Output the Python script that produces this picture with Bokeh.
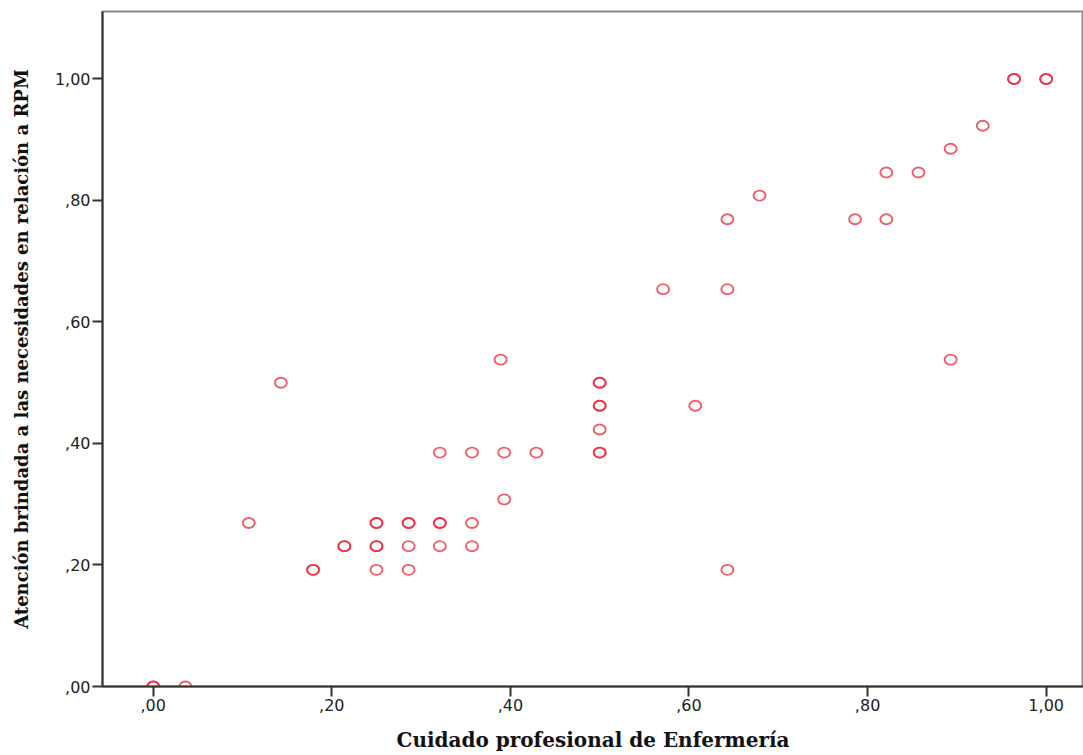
from bokeh.plotting import figure
from bokeh.models import FixedTicker, ColumnDataSource, Range1d
from bokeh.embed import file_html
from bokeh.resources import INLINE

# Data (duplicates = overlapping cases)
cuidado = [0.0, 0.0, 0.036, 0.107, 0.143, 0.179, 0.179, 0.214, 0.214,
           0.25, 0.25, 0.25, 0.25, 0.25, 0.286, 0.286, 0.286, 0.286,
           0.321, 0.321, 0.321, 0.321, 0.357, 0.357, 0.357,
           0.389, 0.393, 0.393, 0.429,
           0.5, 0.5, 0.5, 0.5, 0.5, 0.5, 0.5,
           0.571, 0.607, 0.643, 0.643, 0.643, 0.679,
           0.786, 0.821, 0.821, 0.857, 0.893, 0.893, 0.929,
           0.964, 0.964, 1.0, 1.0]
atencion = [0.0, 0.0, 0.0, 0.269, 0.5, 0.192, 0.192, 0.231, 0.231,
            0.269, 0.269, 0.231, 0.231, 0.192, 0.269, 0.269, 0.231, 0.192,
            0.385, 0.269, 0.269, 0.231, 0.385, 0.269, 0.231,
            0.538, 0.385, 0.308, 0.385,
            0.5, 0.5, 0.462, 0.462, 0.423, 0.385, 0.385,
            0.654, 0.462, 0.769, 0.654, 0.192, 0.808,
            0.769, 0.846, 0.769, 0.846, 0.885, 0.538, 0.923,
            1.0, 1.0, 1.0, 1.0]

tick_values = [0.0, 0.2, 0.4, 0.6, 0.8, 1.0]
tick_labels = [",00", ",20", ",40", ",60", ",80", "1,00"]

x_title = "Cuidado profesional de Enfermería"
y_title = "Atención brindada a las necesidades en relación a RPM"

src = ColumnDataSource(dict(x=cuidado, y=atencion))

p = figure(width=1083, height=755, output_backend="svg", toolbar_location=None,
           x_range=Range1d(-0.0568, 1.0418), y_range=Range1d(0.0, 1.111),
           min_border_left=102, min_border_right=0, min_border_top=11,
           min_border_bottom=69)

p.background_fill_color = "white"
p.border_fill_color = "white"
p.outline_line_color = "#888888"
p.outline_line_width = 2
p.xgrid.visible = False
p.ygrid.visible = False

p.ellipse(x="x", y="y", width=12, height=10, width_units="screen",
          height_units="screen", source=src, fill_color=None,
          line_color="#ee2436", line_alpha=0.75, line_width=1.9)

labels = dict(zip(tick_values, tick_labels))
for ax in (p.xaxis[0], p.yaxis[0]):
    ax.ticker = FixedTicker(ticks=tick_values)
    ax.major_label_overrides = labels
    ax.minor_tick_line_color = None
    ax.major_tick_in = 0
    ax.major_tick_out = 10
    ax.major_tick_line_color = "#333333"
    ax.major_tick_line_width = 2
    ax.axis_line_color = "#333333"
    ax.axis_line_width = 2
    ax.major_label_text_font = "DejaVu Sans"
    ax.major_label_text_font_size = "16px"
    ax.major_label_text_color = "#222222"
    ax.major_label_standoff = 2
    ax.axis_label_text_font = "DejaVu Serif"
    ax.axis_label_text_font_style = "bold"
    ax.axis_label_text_color = "#111111"

p.xaxis.axis_label = x_title
p.yaxis.axis_label = y_title
p.xaxis.axis_label_text_font_size = "20px"
p.yaxis.axis_label_text_font_size = "18px"
p.xaxis.axis_label_standoff = 14
p.yaxis.axis_label_standoff = 20

open("out.html", "w").write(file_html(p, INLINE))
